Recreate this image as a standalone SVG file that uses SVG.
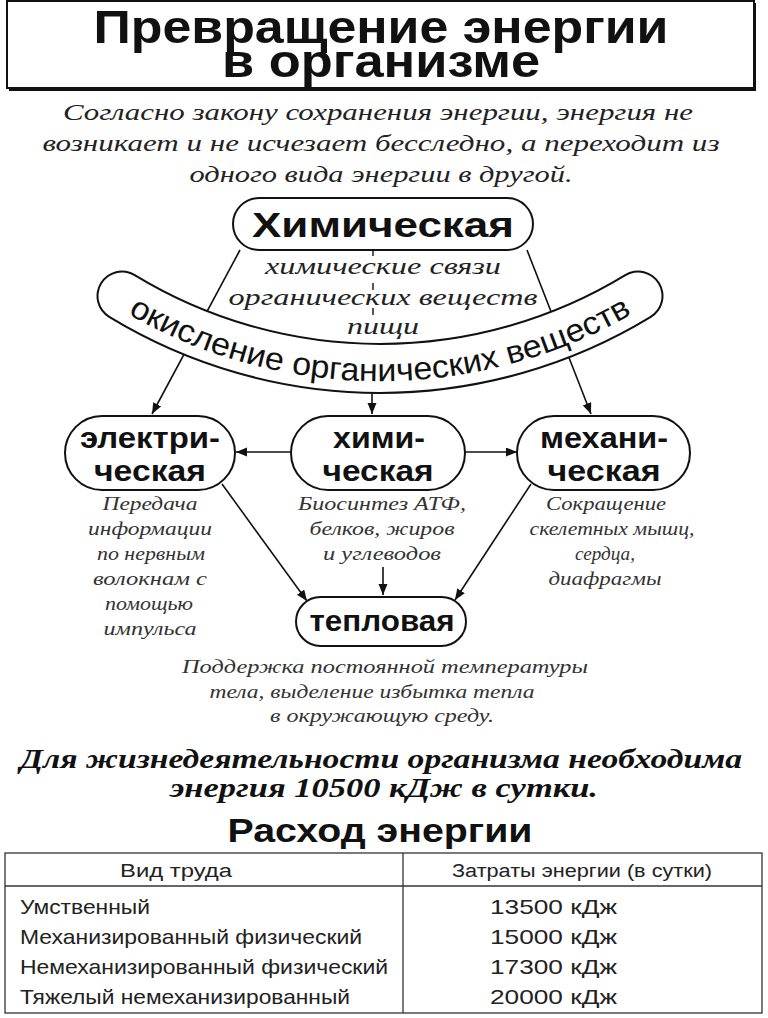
<svg xmlns="http://www.w3.org/2000/svg" width="768" height="1018" viewBox="0 0 768 1018">
<defs>
<style>
.title{font-family:"Liberation Sans",Arial,sans-serif;font-weight:bold;font-size:47px;fill:#111}
.sub{font-family:"Liberation Serif","Times New Roman",serif;font-style:italic;font-size:24px;fill:#222}
.node{font-family:"Liberation Sans",Arial,sans-serif;font-weight:bold;font-size:29px;fill:#111}
.desc{font-family:"Liberation Serif","Times New Roman",serif;font-style:italic;font-size:19px;fill:#333}
.band{font-family:"Liberation Sans",Arial,sans-serif;font-size:32px;fill:#111}
.bi{font-family:"Liberation Serif","Times New Roman",serif;font-style:italic;font-weight:bold;font-size:27px;fill:#111}
.tbl{font-family:"Liberation Sans",Arial,sans-serif;font-size:21px;fill:#222}
.th{font-family:"Liberation Sans",Arial,sans-serif;font-size:18px;fill:#222}
.pill{fill:#fff;stroke:#111;stroke-width:2}
.conn{stroke:#111;stroke-width:1.6;fill:none;marker-end:url(#ah)}
</style>
<marker id="ah" markerUnits="userSpaceOnUse" markerWidth="12" markerHeight="10" refX="11" refY="4.5" orient="auto">
<path d="M0,0 L11,4.5 L0,9 z" fill="#111"/>
</marker>
<path id="bandText" d="M108,302 A507,507 0 0,0 652,302"/>
</defs>
<rect width="768" height="1018" fill="#fff"/>

<g id="title">
<rect x="9" y="3" width="747" height="88" fill="#111"/>
<rect x="7" y="1" width="747" height="87" fill="#fff" stroke="#111" stroke-width="2"/>
<text class="title" x="381" y="43" text-anchor="middle" textLength="575" lengthAdjust="spacingAndGlyphs">Превращение энергии</text>
<text class="title" x="381" y="77" text-anchor="middle" textLength="318" lengthAdjust="spacingAndGlyphs">в организме</text>
</g>

<g id="intro">
<text class="sub" x="378" y="120" text-anchor="middle" textLength="630" lengthAdjust="spacingAndGlyphs">Согласно закону сохранения энергии, энергия не</text>
<text class="sub" x="381" y="151" text-anchor="middle" textLength="677" lengthAdjust="spacingAndGlyphs">возникает и не исчезает бесследно, а переходит из</text>
<text class="sub" x="381" y="182" text-anchor="middle" textLength="383" lengthAdjust="spacingAndGlyphs">одного вида энергии в другой.</text>
</g>

<g id="connectors">
<line class="conn" x1="240" y1="250" x2="152" y2="414"/>
<line class="conn" x1="527" y1="250" x2="591" y2="414"/>
<line class="conn" x1="372" y1="393" x2="372" y2="414"/>
<line class="conn" x1="291" y1="452" x2="236" y2="452"/>
<line class="conn" x1="465" y1="452" x2="517" y2="452"/>
<line class="conn" x1="222" y1="484" x2="307" y2="601"/>
<line class="conn" x1="531" y1="484" x2="455" y2="600"/>
<line class="conn" x1="383" y1="567" x2="383" y2="595"/>
<g stroke="#111" stroke-width="1.4">
<line x1="373" y1="250" x2="373" y2="256"/>
<line x1="373" y1="283" x2="373" y2="290"/>
<line x1="373" y1="308" x2="373" y2="315"/>
</g>
</g>

<g id="node-chem-top">
<rect class="pill" x="233" y="198" width="300" height="52" rx="26"/>
<text x="383" y="237" text-anchor="middle" font-family="Liberation Sans, Arial, sans-serif" font-weight="bold" font-size="35" fill="#111" textLength="262" lengthAdjust="spacingAndGlyphs">Химическая</text>
</g>

<g id="bonds">
<text class="sub" x="383" y="274" text-anchor="middle" textLength="236" lengthAdjust="spacingAndGlyphs">химические связи</text>
<text class="sub" x="383" y="305" text-anchor="middle" textLength="309" lengthAdjust="spacingAndGlyphs">органических веществ</text>
<text class="sub" x="383" y="334" text-anchor="middle" textLength="72" lengthAdjust="spacingAndGlyphs">пищи</text>
</g>

<g id="oxidation">
<path d="M122,296 A496,496 0 0,0 638,296" fill="none" stroke="#111" stroke-width="51" stroke-linecap="round"/>
<path d="M122,296 A496,496 0 0,0 638,296" fill="none" stroke="#fff" stroke-width="47" stroke-linecap="round"/>
<text class="band"><textPath href="#bandText" startOffset="50%" text-anchor="middle" textLength="528" lengthAdjust="spacingAndGlyphs">окисление органических веществ</textPath></text>
</g>

<g id="node-electric">
<rect class="pill" x="65" y="416" width="170" height="74" rx="37"/>
<text class="node" x="150" y="448" text-anchor="middle" textLength="140" lengthAdjust="spacingAndGlyphs">электри-</text>
<text class="node" x="150" y="481" text-anchor="middle" textLength="112" lengthAdjust="spacingAndGlyphs">ческая</text>
</g>

<g id="node-chem">
<rect class="pill" x="291" y="416" width="174" height="74" rx="37"/>
<text class="node" x="379" y="448" text-anchor="middle" textLength="92" lengthAdjust="spacingAndGlyphs">хими-</text>
<text class="node" x="378" y="481" text-anchor="middle" textLength="111" lengthAdjust="spacingAndGlyphs">ческая</text>
</g>

<g id="node-mech">
<rect class="pill" x="517" y="416" width="173" height="74" rx="37"/>
<text class="node" x="604" y="448" text-anchor="middle" textLength="128" lengthAdjust="spacingAndGlyphs">механи-</text>
<text class="node" x="604" y="481" text-anchor="middle" textLength="113" lengthAdjust="spacingAndGlyphs">ческая</text>
</g>

<g id="desc-electric">
<text class="desc" x="150" y="510" text-anchor="middle" textLength="95" lengthAdjust="spacingAndGlyphs">Передача</text>
<text class="desc" x="150" y="535" text-anchor="middle" textLength="124" lengthAdjust="spacingAndGlyphs">информации</text>
<text class="desc" x="151" y="560" text-anchor="middle" textLength="108" lengthAdjust="spacingAndGlyphs">по нервным</text>
<text class="desc" x="150" y="585" text-anchor="middle" textLength="114" lengthAdjust="spacingAndGlyphs">волокнам с</text>
<text class="desc" x="149" y="610" text-anchor="middle" textLength="88" lengthAdjust="spacingAndGlyphs">помощью</text>
<text class="desc" x="150" y="635" text-anchor="middle" textLength="93" lengthAdjust="spacingAndGlyphs">импульса</text>
</g>

<g id="desc-chem">
<text class="desc" x="382" y="510" text-anchor="middle" textLength="168" lengthAdjust="spacingAndGlyphs">Биосинтез АТФ,</text>
<text class="desc" x="382" y="535" text-anchor="middle" textLength="145" lengthAdjust="spacingAndGlyphs">белков, жиров</text>
<text class="desc" x="382" y="560" text-anchor="middle" textLength="118" lengthAdjust="spacingAndGlyphs">и углеводов</text>
</g>

<g id="desc-mech">
<text class="desc" x="606" y="510" text-anchor="middle" textLength="120" lengthAdjust="spacingAndGlyphs">Сокращение</text>
<text class="desc" x="612" y="535" text-anchor="middle" textLength="165" lengthAdjust="spacingAndGlyphs">скелетных мышц,</text>
<text class="desc" x="605" y="560" text-anchor="middle" textLength="60" lengthAdjust="spacingAndGlyphs">сердца,</text>
<text class="desc" x="605" y="585" text-anchor="middle" textLength="113" lengthAdjust="spacingAndGlyphs">диафрагмы</text>
</g>

<g id="node-heat">
<rect class="pill" x="296" y="597" width="170" height="49" rx="24.5"/>
<text class="node" x="382" y="631" text-anchor="middle" textLength="145" lengthAdjust="spacingAndGlyphs">тепловая</text>
</g>

<g id="desc-heat">
<text class="desc" x="385" y="673" text-anchor="middle" textLength="406" lengthAdjust="spacingAndGlyphs">Поддержка постоянной температуры</text>
<text class="desc" x="372" y="698" text-anchor="middle" textLength="325" lengthAdjust="spacingAndGlyphs">тела, выделение избытка тепла</text>
<text class="desc" x="382" y="722" text-anchor="middle" textLength="224" lengthAdjust="spacingAndGlyphs">в окружающую среду.</text>
</g>

<g id="need">
<text class="bi" x="381" y="768" text-anchor="middle" textLength="722" lengthAdjust="spacingAndGlyphs">Для жизнедеятельности организма необходима</text>
<text class="bi" x="384" y="797" text-anchor="middle" textLength="428" lengthAdjust="spacingAndGlyphs">энергия 10500 кДж в сутки.</text>
</g>

<g id="table">
<text x="380" y="842" text-anchor="middle" font-family="Liberation Sans, Arial, sans-serif" font-weight="bold" font-size="34" fill="#111" textLength="305" lengthAdjust="spacingAndGlyphs">Расход энергии</text>
<rect x="5" y="853" width="757" height="160" fill="none" stroke="#333" stroke-width="1.3"/>
<line x1="5" y1="886" x2="762" y2="886" stroke="#333" stroke-width="1.3"/>
<line x1="403" y1="853" x2="403" y2="1013" stroke="#333" stroke-width="1.3"/>
<text class="th" x="176" y="877" text-anchor="middle" textLength="112" lengthAdjust="spacingAndGlyphs">Вид труда</text>
<text class="th" x="582" y="877" text-anchor="middle" textLength="260" lengthAdjust="spacingAndGlyphs">Затраты энергии (в сутки)</text>
<text class="tbl" x="20" y="914" textLength="130" lengthAdjust="spacingAndGlyphs">Умственный</text>
<text class="tbl" x="20" y="944" textLength="342" lengthAdjust="spacingAndGlyphs">Механизированный физический</text>
<text class="tbl" x="20" y="974" textLength="368" lengthAdjust="spacingAndGlyphs">Немеханизированный физический</text>
<text class="tbl" x="20" y="1004" textLength="330" lengthAdjust="spacingAndGlyphs">Тяжелый немеханизированный</text>
<text class="tbl" x="490" y="914" textLength="127" lengthAdjust="spacingAndGlyphs">13500 кДж</text>
<text class="tbl" x="490" y="944" textLength="127" lengthAdjust="spacingAndGlyphs">15000 кДж</text>
<text class="tbl" x="490" y="974" textLength="127" lengthAdjust="spacingAndGlyphs">17300 кДж</text>
<text class="tbl" x="490" y="1004" textLength="127" lengthAdjust="spacingAndGlyphs">20000 кДж</text>
</g>
</svg>
